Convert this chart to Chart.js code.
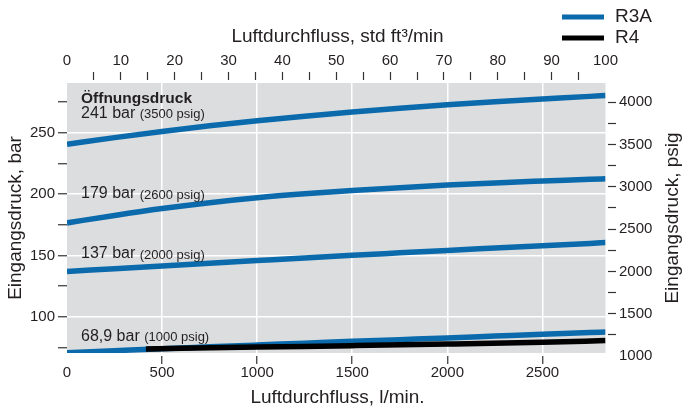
<!DOCTYPE html>
<html>
<head>
<meta charset="utf-8">
<script src="https://cdn.jsdelivr.net/npm/chart.js@4.4.1/dist/chart.umd.min.js"></script>
<style>
  html, body { margin: 0; padding: 0; background: #fff; }
  #wrap { position: relative; width: 683px; height: 412px; }
</style>
</head>
<body>
<div id="wrap"><canvas id="chart"></canvas></div>
<script>
// flow in l/min (bottom axis), inlet pressure in bar (left axis)
const flowLpm = [0, 250, 500, 750, 1000, 1250, 1500, 1750, 2000, 2250, 2500, 2750, 2832];
const r3a241 = [240.5, 246, 251, 255.6, 259.7, 263.4, 266.8, 269.9, 272.7, 275.2, 277.5, 279.6, 280.4];
const r3a179 = [176.5, 182.6, 188.2, 193, 197, 200.2, 202.9, 205.2, 207.3, 209.1, 210.6, 212, 212.5];
const r3a137 = [137, 139.2, 141.4, 143.6, 145.8, 148, 150.1, 152.1, 154.1, 156, 157.9, 159.8, 160.5];
const r3a69 = [70.8, 72.4, 74, 75.5, 77, 78.5, 80, 81.4, 82.8, 84.3, 85.8, 87.2, 87.6];

const r4Flow = [415, 1000, 1500, 2000, 2500, 2832];
const r4_69 = [73.8, 75.3, 76.5, 77.8, 79.3, 80.6];

const seriesNames = ['R3A', 'R4'];
const openingBar = ['241 bar', '179 bar', '137 bar', '68,9 bar'];
const openingPsig = ['(3500 psig)', '(2600 psig)', '(2000 psig)', '(1000 psig)'];
const openingLevel = [265.9, 200, 151.2, 83.7];   // bar level where each label sits
const openingTitle = 'Öffnungsdruck';

// tick values of the four axes
const lpmTicks = [0, 500, 1000, 1500, 2000, 2500];
const cfmTicks = [0, 5, 10, 15, 20, 25, 30, 35, 40, 45, 50, 55, 60, 65, 70, 75, 80, 85, 90, 95, 100];
const barTicks = [75, 100, 125, 150, 175, 200, 225, 250, 275];
const psigTicks = [1000, 1250, 1500, 1750, 2000, 2250, 2500, 2750, 3000, 3250, 3500, 3750, 4000];

const LPM_PER_CFM = 28.3168;
const BLUE = '#0a6aab';
const INK = '#231f20';
const FONT = "'Liberation Sans', Arial, sans-serif";

Chart.defaults.font.family = FONT;
Chart.defaults.color = INK;

const pts = (xs, ys) => xs.map((x, i) => ({ x: x, y: ys[i] }));
const fixTicks = list => scale => { scale.ticks = list.map(v => ({ value: v })); };

const lineStyle = {
  borderWidth: 5.5,
  pointRadius: 0,
  cubicInterpolationMode: 'monotone',
  fill: false,
  clip: { left: 0, top: -3, right: -2.5, bottom: -3 }
};

// gray plot field, a little inside the chart area so tick marks stand off it
const plotBg = {
  id: 'plotBg',
  beforeDraw(chart) {
    const { ctx, chartArea: a } = chart;
    ctx.save();
    ctx.fillStyle = '#dcdddf';
    ctx.fillRect(a.left, a.top + 3, a.right - a.left - 2.5, a.bottom - a.top - 6);
    ctx.restore();
  }
};

const extras = {
  id: 'extras',
  afterDraw(chart) {
    const { ctx, chartArea: a } = chart;
    const y = chart.scales.y;
    ctx.save();
    ctx.fillStyle = INK;
    ctx.textBaseline = 'middle';
    ctx.textAlign = 'left';
    const lx = a.left + 14;

    ctx.font = 'bold 15.5px ' + FONT;
    ctx.fillText(openingTitle, lx, y.getPixelForValue(openingLevel[0]) - 14);

    openingBar.forEach((t, i) => {
      const py = y.getPixelForValue(openingLevel[i]);
      ctx.font = '16px ' + FONT;
      ctx.fillText(t, lx, py);
      const w = ctx.measureText(t + ' ').width;
      ctx.font = '13px ' + FONT;
      ctx.fillText(openingPsig[i], lx + w, py + 1);
    });

    // right axis title, reads bottom to top like the left one
    ctx.save();
    ctx.translate(673, (a.top + a.bottom) / 2);
    ctx.rotate(-Math.PI / 2);
    ctx.textAlign = 'center';
    ctx.font = '19px ' + FONT;
    ctx.fillText('Eingangsdruck, psig', 0, 0);
    ctx.restore();

    // legend
    const colors = [BLUE, '#000'];
    seriesNames.forEach((name, i) => {
      const ly = 17 + i * 21;
      ctx.strokeStyle = colors[i];
      ctx.lineWidth = 5;
      ctx.beginPath();
      ctx.moveTo(562, ly);
      ctx.lineTo(604, ly);
      ctx.stroke();
      ctx.font = '19px ' + FONT;
      ctx.fillText(name, 615, ly);
    });
    ctx.restore();
  }
};

const tickFont = { size: 15 };
const clear = 'rgba(0,0,0,0)';

new Chart(document.getElementById('chart'), {
  type: 'line',
  data: {
    datasets: [
      { label: seriesNames[1], data: pts(r4Flow, r4_69), borderColor: '#000', order: 0, ...lineStyle },
      { label: seriesNames[0], data: pts(flowLpm, r3a241), borderColor: BLUE, order: 1, ...lineStyle },
      { label: seriesNames[0], data: pts(flowLpm, r3a179), borderColor: BLUE, order: 1, ...lineStyle },
      { label: seriesNames[0], data: pts(flowLpm, r3a137), borderColor: BLUE, order: 1, ...lineStyle },
      { label: seriesNames[0], data: pts(flowLpm, r3a69), borderColor: BLUE, order: 1, ...lineStyle }
    ]
  },
  options: {
    responsive: true,
    maintainAspectRatio: false,
    animation: false,
    layout: { padding: 0 },
    plugins: { legend: { display: false }, tooltip: { enabled: false } },
    scales: {
      x: {
        type: 'linear',
        position: 'bottom',
        min: 0,
        max: 2845,
        afterBuildTicks: fixTicks(lpmTicks),
        afterFit: s => { s.height = 56; },
        border: { display: false },
        grid: {
          color: c => (c.tick && c.tick.value > 0 ? '#ffffff' : clear),
          lineWidth: 1.5,
          tickColor: c => (c.tick && c.tick.value > 0 ? '#333' : clear),
          tickLength: 8,
          tickWidth: 1.2
        },
        ticks: {
          padding: 0, font: tickFont, maxRotation: 0, autoSkip: false, color: INK,
          callback: v => String(v)
        },
        title: {
          display: true, text: 'Luftdurchfluss, l/min.', color: INK,
          font: { size: 19 }, padding: { top: 0, bottom: 3 }
        }
      },
      x2: {
        type: 'linear',
        position: 'top',
        min: 0,
        max: 2845 / LPM_PER_CFM,
        afterBuildTicks: fixTicks(cfmTicks),
        afterFit: s => { s.height = 80; },
        border: { display: false },
        grid: {
          drawOnChartArea: false,
          tickColor: c => (c.tick && c.tick.value > 0 && c.tick.value < 100 ? '#333' : clear),
          tickLength: 8,
          tickWidth: 1.2
        },
        ticks: {
          padding: 2, font: tickFont, maxRotation: 0, autoSkip: false, color: INK,
          callback: v => (v % 10 === 0 ? String(v) : '')
        },
        title: {
          display: true, text: 'Luftdurchfluss, std ft³/min', color: INK,
          font: { size: 19 }, padding: { top: 25, bottom: 0 }
        }
      },
      y: {
        type: 'linear',
        position: 'left',
        min: 68.06,
        max: 292.94,
        afterBuildTicks: fixTicks(barTicks),
        afterFit: s => { s.width = 67; },
        border: { display: false },
        grid: {
          color: c => (c.tick && c.tick.value % 50 === 0 ? '#ffffff' : clear),
          lineWidth: 1.5,
          tickColor: '#333',
          tickLength: 9,
          tickWidth: 1.2
        },
        ticks: {
          padding: 3, font: tickFont, color: INK, autoSkip: false,
          callback: v => (v % 50 === 0 ? String(v) : '')
        },
        title: {
          display: true, text: 'Eingangsdruck, bar', color: INK,
          font: { size: 19 }, padding: { top: 4, bottom: 0 }
        }
      },
      y2: {
        type: 'linear',
        position: 'right',
        min: 1000,
        max: 4262,
        afterBuildTicks: fixTicks(psigTicks),
        afterFit: s => { s.width = 75; },
        border: { display: false },
        grid: {
          drawOnChartArea: false,
          tickColor: c => (c.tick && c.tick.value > 1000 ? '#333' : clear),
          tickLength: 8,
          tickWidth: 1.2
        },
        ticks: {
          padding: 3, font: tickFont, color: INK, autoSkip: false,
          callback: v => (v % 500 === 0 ? String(v) : '')
        }
      }
    }
  },
  plugins: [plotBg, extras]
});
</script>
</body>
</html>
